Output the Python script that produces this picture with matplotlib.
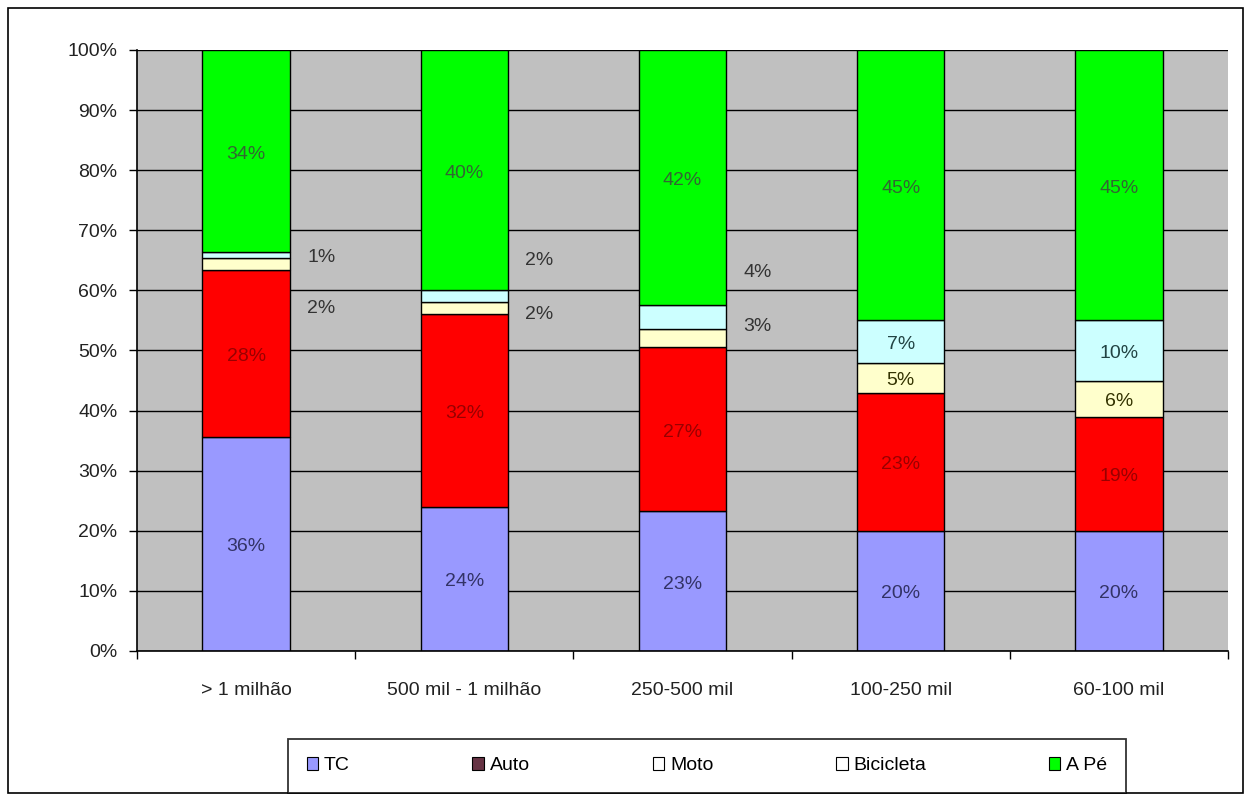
import numpy as np
import matplotlib.pyplot as plt
from matplotlib.patches import Patch, Rectangle

plt.rcParams['font.family'] = ['Liberation Sans', 'DejaVu Sans']

categories = ["> 1 milhão", "500 mil - 1 milhão", "250-500 mil", "100-250 mil", "60-100 mil"]
series = ["TC", "Auto", "Moto", "Bicicleta", "A Pé"]
tc = [36, 24, 23, 20, 20]
auto = [28, 32, 27, 23, 19]
moto = [2, 2, 3, 5, 6]
bici = [1, 2, 4, 7, 10]
ape = [34, 40, 42, 45, 45]

colors = ["#9999FF", "#FF0000", "#FFFFCC", "#CCFFFF", "#00FF00"]
text_colors = ["#333366", "#990000", "#333300", "#224444", "#336633"]
legend_colors = ["#9999FF", "#663344", "#FFFFFF", "#FFFFFF", "#00FF00"]
fs = 14

fig = plt.figure(figsize=(12.48, 7.97), dpi=100)
ax = fig.add_axes([0.1098, 0.1832, 0.8742, 0.7541])
ax.set_facecolor("#C0C0C0")

data = np.array([tc, auto, moto, bici, ape], dtype=float)
# normalise each column to 100%
data = data / data.sum(axis=0) * 100
x = np.arange(len(categories))
bottom = np.zeros(len(categories))
for k in range(len(series)):
    ax.bar(x, data[k], 0.4, bottom=bottom, color=colors[k], edgecolor="black",
           linewidth=1, zorder=3)
    raw = [tc, auto, moto, bici, ape][k]
    for i in range(len(categories)):
        h = data[k][i]
        mid = bottom[i] + h / 2
        if h >= 4.5:
            ax.text(x[i], mid - 0.5, f"{raw[i]}%", ha="center", va="center",
                    fontsize=fs, color=text_colors[k], zorder=4)
    bottom += data[k]

# small segments labelled beside the bar
outside_moto_y = [57, 56, 54]
outside_bici_y = [65.5, 65, 63]
for i in range(3):
    ax.text(x[i] + 0.345, outside_bici_y[i], f"{bici[i]}%", ha="center",
            va="center", fontsize=fs, color="#333333", zorder=4)
    ax.text(x[i] + 0.345, outside_moto_y[i], f"{moto[i]}%", ha="center",
            va="center", fontsize=fs, color="#333333", zorder=4)

ax.set_xlim(-0.5, len(categories) - 0.5)
ax.set_ylim(0, 100)
ax.set_yticks(np.arange(0, 101, 10))
ax.set_yticklabels([f"{v}%" for v in range(0, 101, 10)], fontsize=fs, color="#222222")
ax.yaxis.grid(True, color="black", linewidth=1, zorder=1)
ax.set_xticks(x)
ax.set_xticklabels(categories, fontsize=fs, color="#222222")
ax.set_xticks(np.arange(-0.5, len(categories), 1), minor=True)
ax.tick_params(axis="x", which="major", length=0, pad=22)
ax.tick_params(axis="x", which="minor", length=6, width=1, color="black")
ax.tick_params(axis="y", length=6, width=1, color="black", direction="out", pad=8)
for s in ["top", "right"]:
    ax.spines[s].set_visible(False)
for s in ["left", "bottom"]:
    ax.spines[s].set_color("black")
    ax.spines[s].set_linewidth(1.2)
    ax.spines[s].set_zorder(5)

handles = [Patch(facecolor=legend_colors[k], edgecolor="black", linewidth=0.8)
           for k in range(len(series))]
leg = fig.legend(handles, series, loc="center", bbox_to_anchor=(0.5665, 0.039),
                 ncol=5, frameon=True, fancybox=False, fontsize=fs,
                 handlelength=0.6, handleheight=0.6, handletextpad=0.3,
                 columnspacing=6.3, borderpad=0.95)
leg.get_frame().set_edgecolor("black")
leg.get_frame().set_linewidth(1.3)

fig.patches.append(Rectangle((0.0065, 0.005), 0.9895, 0.985, transform=fig.transFigure,
                             fill=False, edgecolor="black", linewidth=1.2))

fig.savefig("out.png", dpi=100)
